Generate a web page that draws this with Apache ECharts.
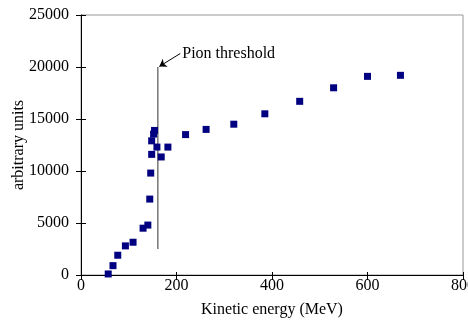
<!DOCTYPE html>
<html><head><meta charset="utf-8">
<script src="https://cdn.jsdelivr.net/npm/echarts@6/dist/echarts.min.js"></script>
<style>html,body{margin:0;padding:0;background:#fff}#c{width:468px;height:333px}</style>
</head><body><div id="c"></div>
<script>
const energy = [57, 67, 77, 93, 109, 130, 140, 144, 146, 148, 148, 152, 154, 159, 168, 182, 219, 262, 320, 385, 458, 529, 600, 669];
const counts = [100, 900, 1900, 2800, 3150, 4500, 4800, 7300, 9800, 11600, 12900, 13550, 13900, 12300, 11350, 12300, 13500, 14000, 14500, 15500, 16700, 18000, 19100, 19200];
const xTicks = [0, 200, 400, 600, 800];
const yTicks = [0, 5000, 10000, 15000, 20000, 25000];
const thresholdE = 161;
const thresholdRange = [2500, 20000];
const labelText = 'Pion threshold';

const font = '"Liberation Serif", "Times New Roman", serif';
const fs = 16;
const chart = echarts.init(document.getElementById('c'));
const lab = {color: '#000', fontFamily: font, fontSize: fs, formatter: v => String(v)};
chart.setOption({
  animation: false,
  backgroundColor: '#fff',
  textStyle: {fontFamily: font, fontSize: fs, color: '#000'},
  grid: {left: 81, right: 5, top: 15, bottom: 58, show: true, borderColor: '#999', borderWidth: 1,
         outerBoundsMode: 'none', containLabel: false},
  xAxis: [{
    type: 'value', min: xTicks[0], max: xTicks[xTicks.length-1], interval: 200,
    name: 'Kinetic energy (MeV)', nameLocation: 'middle', nameGap: 27, nameMoveOverlap: false,
    nameTextStyle: {color: '#000', fontFamily: font, fontSize: fs},
    axisLine: {lineStyle: {color: '#000', width: 1}}, splitLine: {show: false},
    axisTick: {show: true, length: 5, lineStyle: {color: '#000'}},
    axisLabel: {...lab, margin: 3, hideOverlap: false, showMaxLabel: true, showMinLabel: true}
  }, {
    type: 'value', min: xTicks[0], max: xTicks[xTicks.length-1], interval: 200, position: 'bottom', offset: 0,
    axisLine: {show: false}, axisLabel: {show: false}, splitLine: {show: false},
    axisTick: {show: true, inside: true, length: 3, lineStyle: {color: '#000'}}
  }],
  yAxis: [{
    type: 'value', min: yTicks[0], max: yTicks[yTicks.length-1], interval: 5000,
    name: 'arbitrary units', nameLocation: 'middle', nameGap: 54, nameMoveOverlap: false,
    nameTextStyle: {color: '#000', fontFamily: font, fontSize: fs},
    axisLine: {lineStyle: {color: '#000', width: 1}}, splitLine: {show: false},
    axisTick: {show: true, length: 5, lineStyle: {color: '#000'}},
    axisLabel: {...lab, margin: 12}
  }, {
    type: 'value', min: yTicks[0], max: yTicks[yTicks.length-1], interval: 5000, position: 'left', offset: 0,
    axisLine: {show: false}, axisLabel: {show: false}, splitLine: {show: false},
    axisTick: {show: true, inside: true, length: 5, lineStyle: {color: '#000'}}
  }],
  series: [{
    type: 'line', data: [[thresholdE, thresholdRange[0]], [thresholdE, thresholdRange[1]]],
    symbol: 'none', lineStyle: {color: '#333', width: 1}, z: 1,
    markLine: {
      silent: true, symbol: ['none', 'arrow'], symbolSize: 7,
      lineStyle: {color: '#000', width: 1, type: 'solid'},
      label: {show: false},
      data: [[{coord: [208, 21300]}, {coord: [thresholdE + 3, thresholdRange[1] + 50]}]]
    }
  }, {
    type: 'scatter', data: energy.map((e, i) => [e, counts[i]]),
    symbol: 'rect', symbolSize: 7, itemStyle: {color: '#000080', opacity: 1}, z: 3
  }]
});
const p = chart.convertToPixel({xAxisIndex: 0, yAxisIndex: 0}, [212, 21500]);
chart.setOption({graphic: [{type: 'text', x: p[0], y: p[1] + 2, style: {text: labelText, font: fs + 'px "Liberation Serif"', fill: '#000', verticalAlign: 'middle'}}]});
</script></body></html>
